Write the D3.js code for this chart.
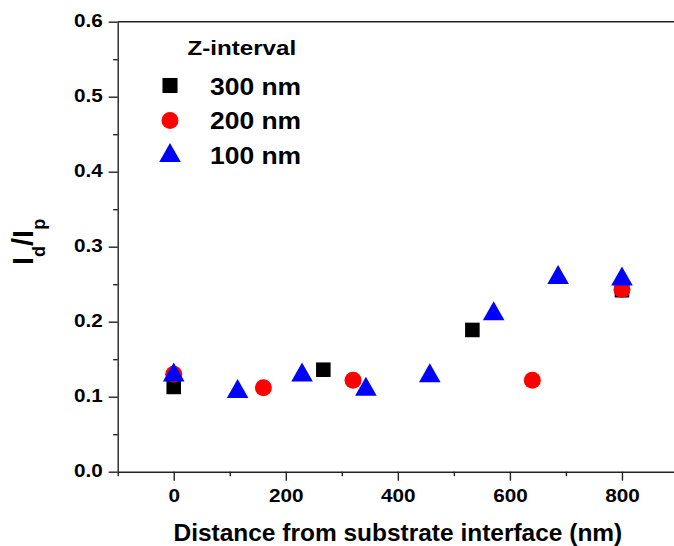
<!DOCTYPE html>
<html>
<head>
<meta charset="utf-8">
<script src="https://cdn.jsdelivr.net/npm/d3@7"></script>
<style>
  body { margin: 0; background: #fff; }
  svg { display: block; font-family: "Liberation Sans", Arial, sans-serif; font-weight: bold; }
</style>
</head>
<body>
<div id="chart"></div>
<script>
// Données
const seriesNames = ["300 nm", "200 nm", "100 nm"];
const x300 = [0, 267, 533, 800];
const y300 = [0.113, 0.136, 0.189, 0.242];
const x200 = [0, 160, 320, 640, 800];
const y200 = [0.130, 0.112, 0.122, 0.122, 0.243];
const x100 = [0, 114, 229, 343, 457, 571, 686, 800];
const y100 = [0.133, 0.111, 0.133, 0.114, 0.132, 0.2145, 0.263, 0.261];

const xTicks = [0, 200, 400, 600, 800];
const xMinor = [-100, 100, 300, 500, 700];
const yTicks = [0, 0.1, 0.2, 0.3, 0.4, 0.5, 0.6];
const yMinor = [0.05, 0.15, 0.25, 0.35, 0.45, 0.55];

const width = 674;
const height = 546;
const stretch = 1.15;

const svg = d3.select("#chart")
  .append("svg")
  .attr("width", width)
  .attr("height", height);

// Échelles
const x = d3.scaleLinear().domain([-100, 900]).range([117.7, 678]);
const y = d3.scaleLinear().domain([0, 0.6]).range([471.7, 21.7]);

// Axe Y
const yAxis = svg.append("g")
  .attr("transform", "translate(" + x(-100) + ",0)")
  .call(d3.axisLeft(y).tickValues(yTicks).tickSize(9).tickSizeOuter(0).tickFormat(d3.format(".1f")));

yAxis.selectAll("text")
  .attr("x", -15 / stretch)
  .attr("dy", "0.28em")
  .attr("transform", "scale(" + stretch + ",1)");

svg.append("g")
  .attr("transform", "translate(" + x(-100) + ",0)")
  .call(d3.axisLeft(y).tickValues(yMinor).tickSize(4.5).tickFormat(""))
  .select(".domain").remove();

// Axe X
const xAxis = svg.append("g")
  .attr("transform", "translate(0," + y(0) + ")")
  .call(d3.axisBottom(x).tickValues(xTicks).tickSize(9).tickSizeOuter(0));

xAxis.selectAll("text")
  .attr("y", 17.5)
  .attr("dy", "0.71em")
  .attr("transform", "scale(" + stretch + ",1)");

svg.append("g")
  .attr("transform", "translate(0," + y(0) + ")")
  .call(d3.axisBottom(x).tickValues(xMinor).tickSize(4.5).tickFormat(""))
  .select(".domain").remove();

svg.selectAll(".tick text")
  .attr("font-size", 18)
  .attr("font-family", "Liberation Sans, Arial, sans-serif")
  .attr("font-weight", "bold")
  .attr("fill", "#000");

svg.selectAll(".domain, .tick line")
  .attr("stroke", "#222")
  .attr("stroke-width", 1.4);

// bordure du haut
svg.append("line")
  .attr("x1", x(-100))
  .attr("x2", x(900))
  .attr("y1", y(0.6))
  .attr("y2", y(0.6))
  .attr("stroke", "#222")
  .attr("stroke-width", 1.4);

// Titres des axes
svg.append("text")
  .attr("transform", "translate(" + ((x(0) + x(800)) / 2) + ",540.5) scale(1.02,1)")
  .attr("text-anchor", "middle")
  .attr("font-size", 24)
  .attr("fill", "#000")
  .text("Distance from substrate interface (nm)");

const yTitle = svg.append("text")
  .attr("transform", "translate(33,265) rotate(-90)")
  .attr("fill", "#000");
yTitle.append("tspan").attr("font-size", 29).text("I");
yTitle.append("tspan").attr("font-size", 18).attr("dy", 12).text("d");
yTitle.append("tspan").attr("font-size", 29).attr("dy", -12).text("/I");
yTitle.append("tspan").attr("font-size", 18).attr("dy", 12).text("p");

// Symboles
const triangle = {
  draw: function(ctx, size) {
    const w = Math.sqrt(size) * 1.06;
    const h = w * 0.88;
    ctx.moveTo(0, -h / 2);
    ctx.lineTo(w / 2, h / 2);
    ctx.lineTo(-w / 2, h / 2);
    ctx.closePath();
  }
};

const styles = [
  { type: d3.symbolSquare, size: 212, fill: "#000000" },
  { type: d3.symbolCircle, size: 227, fill: "#ff0000" },
  { type: triangle, size: 415, fill: "#0000ff" }
];

const allSeries = [
  x300.map((d, i) => [d, y300[i]]),
  x200.map((d, i) => [d, y200[i]]),
  x100.map((d, i) => [d, y100[i]])
];

allSeries.forEach(function(pts, k) {
  svg.append("g")
    .selectAll("path")
    .data(pts)
    .enter()
    .append("path")
    .attr("d", d3.symbol().type(styles[k].type).size(styles[k].size))
    .attr("transform", d => "translate(" + x(d[0]) + "," + y(d[1]) + ")")
    .attr("fill", styles[k].fill);
});

// Légende
svg.append("text")
  .attr("transform", "translate(187.5,54.5) scale(" + stretch + ",1)")
  .attr("font-size", 21)
  .attr("fill", "#000")
  .text("Z-interval");

const legendY = [85.5, 120.5, 152.5];
const legendText = [95, 129, 163.5];

seriesNames.forEach(function(name, k) {
  svg.append("path")
    .attr("d", d3.symbol().type(styles[k].type).size(styles[k].size + (k == 0 ? 15 : 0))())
    .attr("transform", "translate(170," + legendY[k] + ")")
    .attr("fill", styles[k].fill);
  svg.append("text")
    .attr("transform", "translate(210," + legendText[k] + ") scale(" + stretch + ",1)")
    .attr("font-size", 23)
    .attr("fill", "#000")
    .text(name);
});
</script>
</body>
</html>
